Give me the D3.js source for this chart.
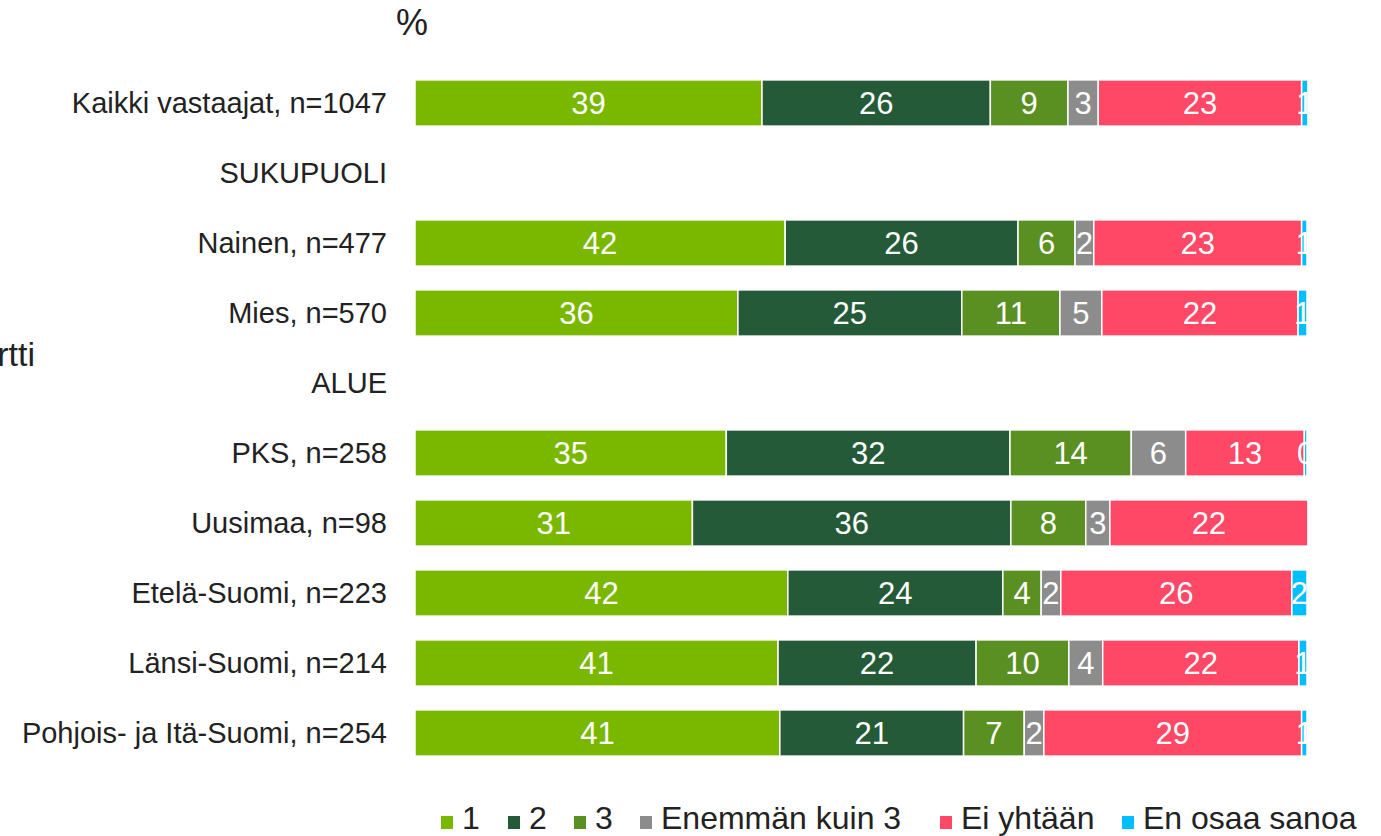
<!DOCTYPE html>
<html>
<head>
<meta charset="utf-8">
<script src="https://cdn.jsdelivr.net/npm/d3@7"></script>
<style>
  body { margin: 0; background: #fff; }
  text { font-family: "Liberation Sans", Arial, sans-serif; }
</style>
</head>
<body>
<div id="chart"></div>
<script>
// rows of the chart (headers have no bar)
var rows = ["Kaikki vastaajat, n=1047", "SUKUPUOLI", "Nainen, n=477", "Mies, n=570", "ALUE",
  "PKS, n=258", "Uusimaa, n=98", "Etelä-Suomi, n=223", "Länsi-Suomi, n=214", "Pohjois- ja Itä-Suomi, n=254"];
var headers = ["SUKUPUOLI", "ALUE"];

var seriesNames = ["1", "2", "3", "Enemmän kuin 3", "Ei yhtään", "En osaa sanoa"];
var colors = ["#7ab800", "#245a37", "#5a8f22", "#8c8c8c", "#ff4766", "#00bfff"];

// percentages per series, in row order (null = header row)
var s1 = [38.9, null, 41.5, 36.2, null, 34.9, 31.1, 41.8, 40.7, 40.9];
var s2 = [25.6, null, 26.1, 25.1, null, 31.8, 35.7, 24.1, 22.2, 20.6];
var s3 = [8.7, null, 6.4, 11.0, null, 13.6, 8.4, 4.3, 10.4, 6.8];
var s4 = [3.4, null, 2.1, 4.7, null, 6.1, 2.7, 2.2, 3.8, 2.2];
var s5 = [22.8, null, 23.3, 22.0, null, 13.3, 22.2, 25.9, 22.0, 28.9];
var s6 = [0.7, null, 0.6, 1.0, null, 0.3, 0.0, 1.7, 0.9, 0.6];
var seriesValues = [s1, s2, s3, s4, s5, s6];

var svgWidth = 1381, svgHeight = 836;
var svg = d3.select("#chart").append("svg")
  .attr("width", svgWidth)
  .attr("height", svgHeight);

var x = d3.scaleLinear().domain([0, 100]).range([415, 1307]);
var y = d3.scaleBand().domain(rows).range([68, 768]).paddingInner(0.34).paddingOuter(0.17);

// build table for stack
var table = rows.map(function(r, i) {
  var o = { row: r };
  seriesNames.forEach(function(s, j) { o[s] = seriesValues[j][i] || 0; });
  return o;
});
var stacked = d3.stack().keys(seriesNames)(table.filter(function(d) { return headers.indexOf(d.row) < 0; }));

svg.append("defs").append("clipPath").attr("id", "plotclip")
  .append("rect").attr("x", 415).attr("y", 0).attr("width", 892).attr("height", 790);

var plot = svg.append("g");

var layers = plot.selectAll("g.layer")
  .data(stacked)
  .enter().append("g")
  .attr("class", "layer")
  .attr("fill", function(d, i) { return colors[i]; });

layers.selectAll("rect")
  .data(function(d) { return d; })
  .enter().append("rect")
  .attr("x", function(d) { return x(d[0]); })
  .attr("y", function(d) { return y(d.data.row); })
  .attr("width", function(d) { return Math.max(0, x(d[1]) - x(d[0])); })
  .attr("height", y.bandwidth())
  .attr("stroke", "#fff")
  .attr("stroke-width", 1.5);

var labels = plot.append("g").attr("clip-path", "url(#plotclip)");
stacked.forEach(function(layer) {
  labels.selectAll(null)
    .data(layer.filter(function(d) { return d[1] - d[0] > 0.2; }))
    .enter().append("text")
    .attr("x", function(d) { return (x(d[0]) + x(d[1])) / 2; })
    .attr("y", function(d) { return y(d.data.row) + y.bandwidth() / 2; })
    .attr("dy", "0.36em")
    .attr("text-anchor", "middle")
    .attr("fill", "#fff")
    .attr("font-size", "31px")
    .text(function(d) { return d3.format(".0f")(d[1] - d[0]); });
});

// category labels
svg.append("g").selectAll("text")
  .data(rows)
  .enter().append("text")
  .attr("x", 387)
  .attr("y", function(d) { return y(d) + y.bandwidth() / 2; })
  .attr("dy", "0.36em")
  .attr("text-anchor", "end")
  .attr("fill", "#222")
  .attr("font-size", "29px")
  .text(function(d) { return d; });

svg.append("text")
  .attr("x", 396).attr("y", 35)
  .attr("fill", "#222").attr("font-size", "36px")
  .text("%");

// axis title partly outside the page, as in the original
svg.append("text")
  .attr("x", 35).attr("y", 366)
  .attr("text-anchor", "end")
  .attr("fill", "#222").attr("font-size", "34px")
  .text("Kortti");

// legend
var legendX = [441, 508, 574, 640, 940, 1122];
var legend = svg.append("g").selectAll("g")
  .data(seriesNames)
  .enter().append("g")
  .attr("transform", function(d, i) { return "translate(" + legendX[i] + ",822)"; });
legend.append("rect")
  .attr("x", 0).attr("y", -6).attr("width", 12).attr("height", 13)
  .attr("fill", function(d, i) { return colors[i]; });
legend.append("text")
  .attr("x", 21).attr("y", 7)
  .attr("fill", "#222")
  .attr("font-size", "32px")
  .attr("font-family", "'Liberation Sans Narrow', 'Liberation Sans', sans-serif")
  .text(function(d) { return d; });
</script>
</body>
</html>
